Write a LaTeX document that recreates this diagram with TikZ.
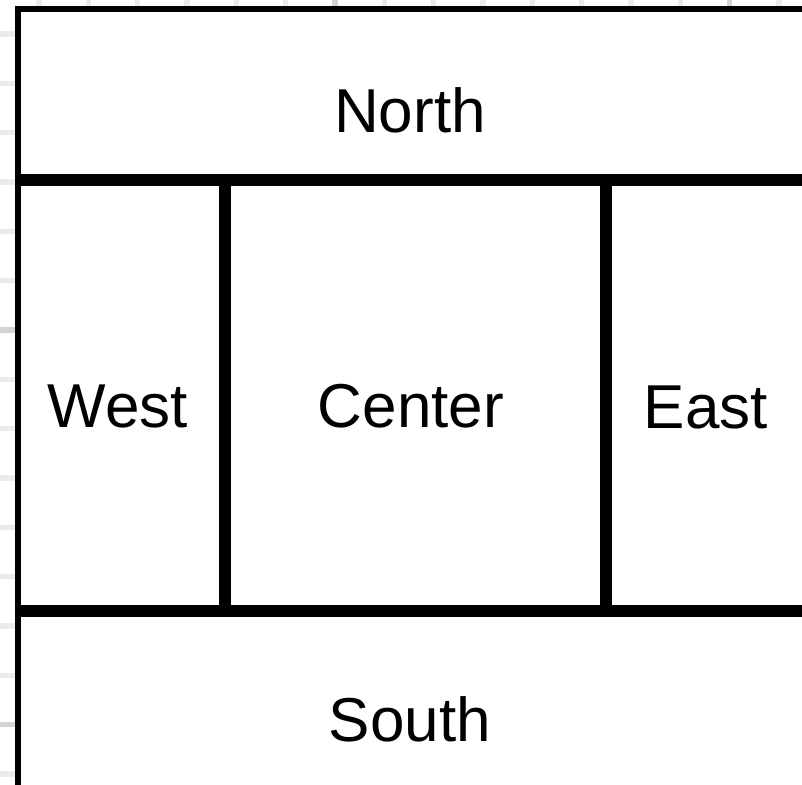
\documentclass[tikz,border=0pt]{standalone}
\usepackage{fontspec}
\setsansfont{Liberation Sans}
\usetikzlibrary{positioning}
\tikzset{
  region/.style = {
    rectangle, draw=black, line width=6pt, fill=white,
    inner sep=0pt, outer sep=0pt, anchor=north west
  },
  regionlabel/.style = {
    font=\sffamily\fontsize{62pt}{72pt}\selectfont, inner sep=0pt
  },
  gridline/.style = {line width=5.5pt, draw=black!8},
  gridmajor/.style = {line width=5.5pt, draw=black!17}
}

\begin{document}
\begin{tikzpicture}[x=1pt, y=-1pt]
  \clip (0,0) rectangle (802,784);
  % Background grid
  \foreach \k in {0,...,15} {
    \pgfmathsetmacro{\gx}{39+49.33*\k}
    \pgfmathsetmacro{\gy}{34+49.33*\k}
    \draw[gridline] (\gx,0) -- (\gx,784);
    \draw[gridline] (0,\gy) -- (802,\gy);
  }
  \foreach \k in {6,14} {
    \pgfmathsetmacro{\gx}{39+49.33*\k}
    \pgfmathsetmacro{\gy}{34+49.33*\k}
    \draw[gridmajor] (\gx,0) -- (\gx,784);
    \draw[gridmajor] (0,\gy) -- (802,\gy);
  }

  % Regions
  \node[region, minimum width=787pt, minimum height=168pt] (north) at (18,9) {};
  \node[region, minimum width=204pt, minimum height=425pt] (west) at (18,183) {};
  \node[region, minimum width=374.5pt, minimum height=425pt] (center) at (228,183) {};
  \node[region, minimum width=196.5pt, minimum height=425pt] (east) at (608.5,183) {};
  \node[region, minimum width=787pt, minimum height=213pt] (south) at (18,614) {};

  % Labels
  \node[regionlabel] (northtxt) at (410,110) {North};
  \node[regionlabel] (westtxt) at (118,406) {West};
  \node[regionlabel] (centertxt) at (411,406) {Center};
  \node[regionlabel] (easttxt) at (706,407) {East};
  \node[regionlabel] (southtxt) at (410,719) {South};
\end{tikzpicture}
\end{document}
